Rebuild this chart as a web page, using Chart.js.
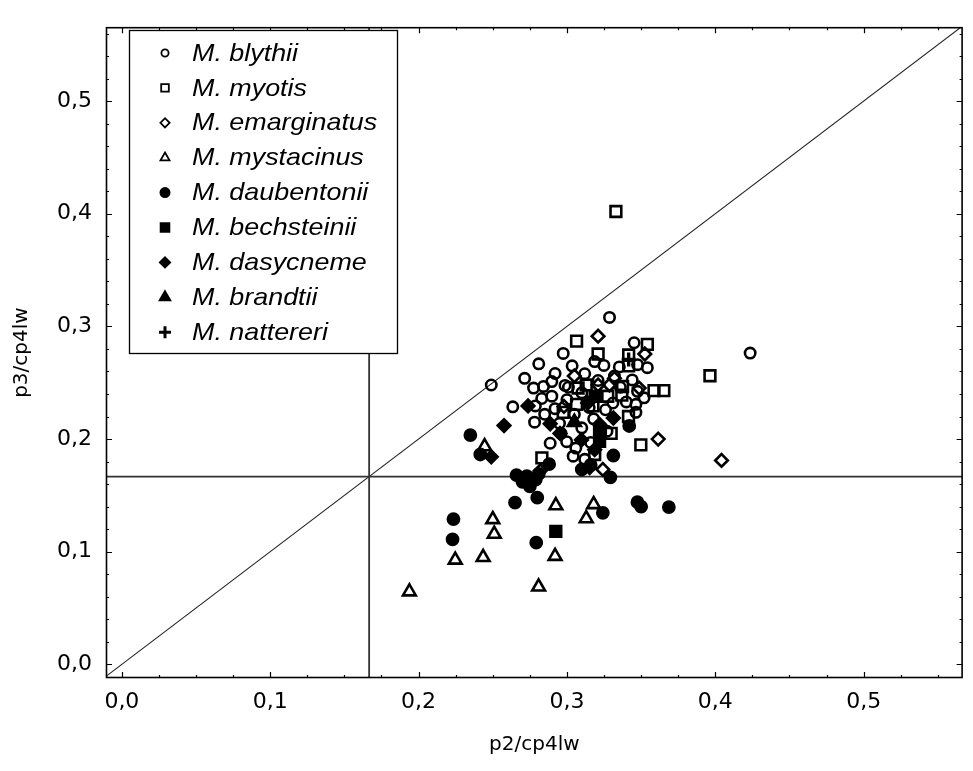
<!DOCTYPE html>
<html>
<head>
<meta charset="utf-8">
<script src="https://cdn.jsdelivr.net/npm/chart.js@4"></script>
<style>
  html, body { margin: 0; padding: 0; background: #fff; }
  #wrap { width: 973px; height: 771px; }
</style>
</head>
<body>
<div id="wrap"><canvas id="batChart"></canvas></div>
<script>
// values, [p2/cp4lw, p3/cp4lw]
const blythii = [
    [0.249, 0.248], [0.2635, 0.2286], [0.3287, 0.308], [0.2975, 0.276], [0.281, 0.2668],
    [0.3035, 0.265], [0.3187, 0.2688], [0.3249, 0.2654], [0.3453, 0.2855], [0.3353, 0.264],
    [0.3542, 0.2634], [0.3476, 0.266], [0.4235, 0.2763], [0.292, 0.2582], [0.2715, 0.2539],
    [0.2775, 0.2453], [0.2898, 0.251], [0.2987, 0.2476], [0.2842, 0.2467], [0.2898, 0.2381],
    [0.2787, 0.2294], [0.2782, 0.215], [0.2887, 0.1963], [0.2998, 0.1977], [0.3042, 0.1848],
    [0.312, 0.182], [0.344, 0.2525], [0.3476, 0.2424], [0.352, 0.2366], [0.3465, 0.2308],
    [0.3465, 0.2237], [0.300, 0.235], [0.310, 0.241], [0.315, 0.228], [0.305, 0.222],
    [0.295, 0.214], [0.285, 0.222], [0.310, 0.210], [0.318, 0.218], [0.326, 0.226],
    [0.331, 0.232], [0.336, 0.246], [0.321, 0.252], [0.312, 0.258], [0.301, 0.246],
    [0.296, 0.205], [0.316, 0.197], [0.306, 0.192], [0.327, 0.207], [0.340, 0.233],
    [0.332, 0.256], [0.283, 0.236], [0.292, 0.227],
];
const myotis = [
    [0.333, 0.402], [0.3065, 0.287], [0.321, 0.2755], [0.3542, 0.284], [0.3416, 0.2746],
    [0.3416, 0.265], [0.3375, 0.2467], [0.3587, 0.243], [0.3653, 0.243], [0.3275, 0.238],
    [0.337, 0.239], [0.3415, 0.22], [0.3298, 0.205], [0.3498, 0.1949], [0.3964, 0.2562],
    [0.3075, 0.2453], [0.3065, 0.2308], [0.2975, 0.2237], [0.3175, 0.2294], [0.2831, 0.1833],
    [0.3187, 0.1863], [0.313, 0.248],
];
const emarginatus = [
    [0.321, 0.2913], [0.3525, 0.2755], [0.3615, 0.200], [0.4042, 0.181], [0.3242, 0.173],
    [0.282, 0.1718], [0.321, 0.248], [0.3287, 0.248], [0.332, 0.2539], [0.3487, 0.2453],
    [0.305, 0.256], [0.298, 0.229],
];
const mystacinus = [
    [0.2445, 0.1934], [0.250, 0.1287], [0.251, 0.1157], [0.2247, 0.0927], [0.2435, 0.095],
    [0.1938, 0.0645], [0.2809, 0.0688], [0.2925, 0.141], [0.292, 0.096], [0.318, 0.142],
    [0.313, 0.1295],
];
const daubentonii = [
    [0.2349, 0.2035], [0.2416, 0.1863], [0.265, 0.1435], [0.266, 0.168], [0.270, 0.162],
    [0.275, 0.158], [0.273, 0.167], [0.279, 0.164], [0.280, 0.148], [0.2235, 0.129],
    [0.2229, 0.111], [0.2793, 0.108], [0.3242, 0.1345], [0.3475, 0.144], [0.350, 0.140],
    [0.3687, 0.1396], [0.3313, 0.1854], [0.3293, 0.166], [0.310, 0.173], [0.316, 0.177],
    [0.281, 0.169], [0.288, 0.1777], [0.342, 0.2116],
];
const bechsteinii = [[0.2925, 0.118], [0.322, 0.198], [0.322, 0.207], [0.319, 0.238]];
const dasycneme = [
    [0.2576, 0.212], [0.249, 0.1842], [0.2738, 0.2294], [0.2887, 0.2136], [0.2953, 0.205],
    [0.3098, 0.1992], [0.3313, 0.2187], [0.322, 0.213], [0.3187, 0.1906], [0.3153, 0.1747],
    [0.314, 0.232],
];
const brandtii = [[0.305, 0.215]];
const nattereri = [[0.3416, 0.2706]];

const xTicks = [0, 0.1, 0.2, 0.3, 0.4, 0.5];
const xTickLabels = ['0,0', '0,1', '0,2', '0,3', '0,4', '0,5'];
const yTicks = [0, 0.1, 0.2, 0.3, 0.4, 0.5];
const yTickLabels = ['0,0', '0,1', '0,2', '0,3', '0,4', '0,5'];
const refValue = 1 / 6;

const X_MIN = -0.0107, X_MAX = 0.5667;
const Y_MIN = -0.0121, Y_MAX = 0.5656;
const FONT = 'Liberation Sans';

const species = [
    { label: 'M. blythii', data: blythii, style: 'circle', r: 5.2, lr: 3.6, fill: false },
    { label: 'M. myotis', data: myotis, style: 'rect', r: 7.6, lr: 5.4, fill: false },
    { label: 'M. emarginatus', data: emarginatus, style: 'rectRot', r: 6.3, lr: 4.6, fill: false },
    { label: 'M. mystacinus', data: mystacinus, style: 'triangle', r: 7.4, lr: 5.2, fill: false },
    { label: 'M. daubentonii', data: daubentonii, style: 'circle', r: 5.6, lr: 4.6, fill: true },
    { label: 'M. bechsteinii', data: bechsteinii, style: 'rect', r: 7.6, lr: 6.2, fill: true },
    { label: 'M. dasycneme', data: dasycneme, style: 'rectRot', r: 6.3, lr: 5.2, fill: true },
    { label: 'M. brandtii', data: brandtii, style: 'triangle', r: 7.5, lr: 6.2, fill: true },
    { label: 'M. nattereri', data: nattereri, style: 'cross', r: 7, lr: 6, fill: false },
];

const toPoints = (pairs) => pairs.map(([x, y]) => ({ x, y }));

const refLine = (points, width, color) => ({
    type: 'line',
    data: points,
    borderColor: color,
    borderWidth: width,
    pointRadius: 0,
    showLine: true,
    fill: false,
    clip: 0,
    order: 20,
});

const datasets = species.map((s, i) => ({
    type: 'scatter',
    label: s.label,
    data: toPoints(s.data),
    pointStyle: s.style,
    pointRadius: s.r,
    pointHoverRadius: s.r,
    pointBorderWidth: s.style === 'cross' ? 3.4 : 2.6,
    pointBorderColor: '#000',
    pointBackgroundColor: s.fill ? '#000' : 'rgba(0,0,0,0)',
    order: 10 - i,
}));

datasets.push(
    refLine([{ x: refValue, y: -1 }, { x: refValue, y: 1 }], 1.8, '#333'),
    refLine([{ x: -1, y: refValue }, { x: 1, y: refValue }], 1.8, '#333'),
    refLine([{ x: -1, y: -1 }, { x: 1, y: 1 }], 1.1, '#222')
);

// frame with small inward ticks on all four sides
const framePlugin = {
    id: 'frame',
    afterDatasetsDraw(chart) {
        const { ctx, chartArea: a, scales } = chart;
        const xs = scales.x, ys = scales.y;
        ctx.save();
        ctx.strokeStyle = '#000';
        ctx.lineWidth = 1.2;
        ctx.beginPath();
        for (let k = 0; k <= 22; k++) {
            const px = Math.round(xs.getPixelForValue(k * 0.025)) + 0.5;
            if (px < a.left || px > a.right) continue;
            const len = k % 4 === 0 ? 6 : 3;
            ctx.moveTo(px, a.bottom);
            ctx.lineTo(px, a.bottom - len);
            ctx.moveTo(px, a.top);
            ctx.lineTo(px, a.top + len);
        }
        for (let k = 0; k <= 28; k++) {
            const py = Math.round(ys.getPixelForValue(k * 0.02)) + 0.5;
            if (py < a.top || py > a.bottom) continue;
            const len = k % 5 === 0 ? 6 : 3;
            ctx.moveTo(a.left, py);
            ctx.lineTo(a.left + len, py);
            ctx.moveTo(a.right, py);
            ctx.lineTo(a.right - len, py);
        }
        ctx.stroke();
        ctx.lineWidth = 1.6;
        ctx.strokeRect(a.left + 0.5, a.top + 0.5, a.right - a.left - 1, a.bottom - a.top - 1);
        ctx.restore();
    },
};

// boxed legend sitting inside the plot, top left
const legendPlugin = {
    id: 'boxLegend',
    afterDraw(chart) {
        const { ctx } = chart;
        const box = { x: 129.5, y: 30.5, w: 268, h: 323 };
        ctx.save();
        ctx.fillStyle = '#fff';
        ctx.fillRect(box.x, box.y, box.w, box.h);
        ctx.strokeStyle = '#000';
        ctx.lineWidth = 1.3;
        ctx.strokeRect(box.x, box.y, box.w, box.h);
        ctx.font = 'italic 24px "' + FONT + '"';
        ctx.textBaseline = 'middle';
        species.forEach((s, i) => {
            const cy = 53 + i * 34.9;
            ctx.fillStyle = s.fill ? '#000' : 'rgba(0,0,0,0)';
            ctx.strokeStyle = '#000';
            ctx.lineWidth = s.style === 'cross' ? 3 : 1.8;
            Chart.helpers.drawPoint(ctx, {
                pointStyle: s.style,
                radius: s.lr,
                rotation: 0,
                borderWidth: ctx.lineWidth,
            }, 165, cy);
            ctx.fillStyle = '#000';
            ctx.save();
            ctx.translate(192, cy + 1);
            ctx.scale(1.12, 1);
            ctx.fillText(s.label, 0, 0);
            ctx.restore();
        });
        ctx.restore();
    },
};

new Chart(document.getElementById('batChart'), {
    data: { datasets },
    options: {
        responsive: true,
        maintainAspectRatio: false,
        animation: false,
        events: [],
        layout: { padding: { top: 9, right: 1, left: 0, bottom: 0 } },
        plugins: {
            legend: { display: false },
            tooltip: { enabled: false },
        },
        scales: {
            x: {
                type: 'linear',
                min: X_MIN,
                max: X_MAX,
                grid: { display: false, drawTicks: false },
                border: { display: false },
                afterBuildTicks: (scale) => {
                    scale.ticks = xTicks.map((v) => ({ value: v }));
                },
                afterFit: (scale) => {
                    scale.height = 93;
                },
                ticks: {
                    padding: 11,
                    color: '#000',
                    font: { family: 'DejaVu Sans', size: 22 },
                    maxRotation: 0,
                    callback: (v, i) => xTickLabels[i],
                },
                title: {
                    display: true,
                    text: 'p2/cp4lw',
                    color: '#000',
                    font: { family: 'DejaVu Sans', size: 20 },
                    padding: { top: 0, bottom: 14 },
                },
            },
            y: {
                type: 'linear',
                min: Y_MIN,
                max: Y_MAX,
                grid: { display: false, drawTicks: false },
                border: { display: false },
                afterBuildTicks: (scale) => {
                    scale.ticks = yTicks.map((v) => ({ value: v }));
                },
                afterFit: (scale) => {
                    scale.width = 106;
                },
                ticks: {
                    padding: 14,
                    color: '#000',
                    font: { family: 'DejaVu Sans', size: 22 },
                    callback: (v, i) => yTickLabels[i],
                },
                title: {
                    display: true,
                    text: 'p3/cp4lw',
                    color: '#000',
                    font: { family: 'DejaVu Sans', size: 20 },
                    padding: { top: 10, bottom: 0 },
                },
            },
        },
    },
    plugins: [framePlugin, legendPlugin],
});
</script>
</body>
</html>
